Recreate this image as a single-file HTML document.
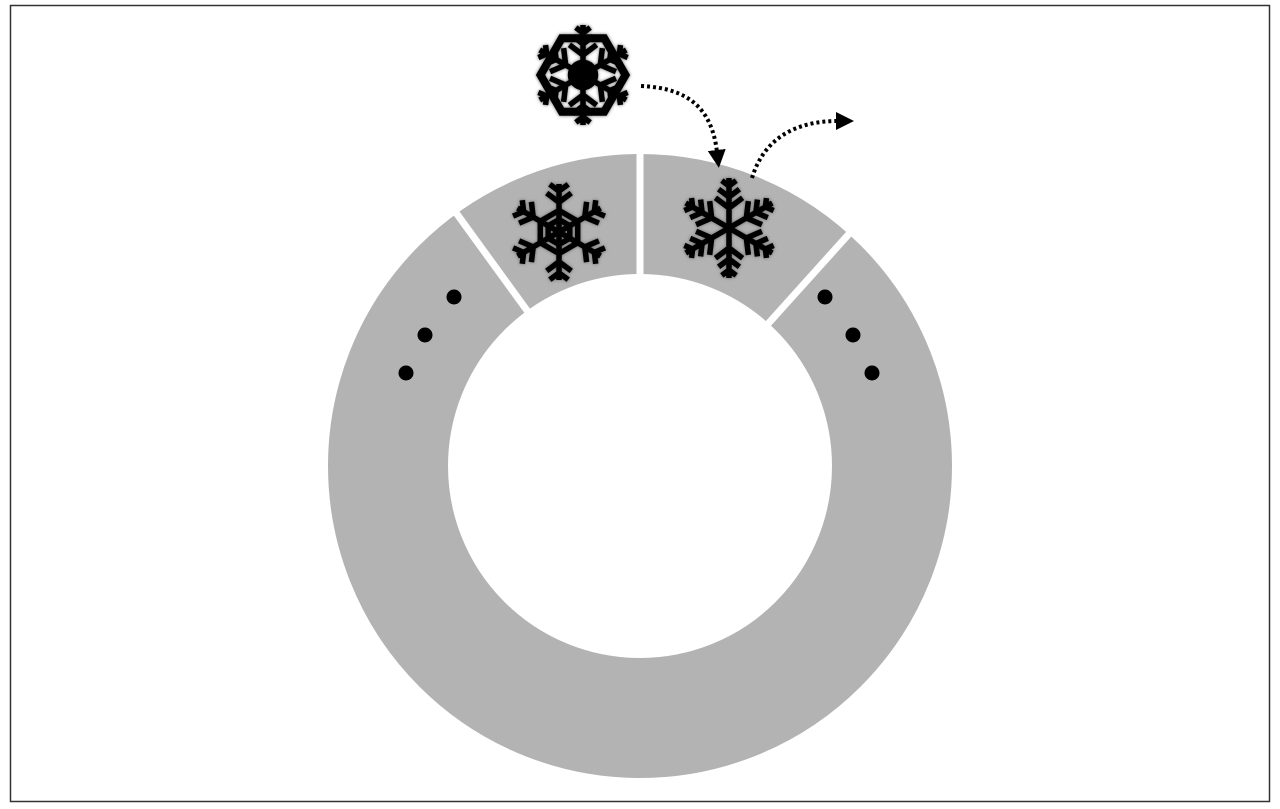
<!DOCTYPE html>
<html><head><meta charset="utf-8"><style>
html,body{margin:0;padding:0;background:#fff;width:1280px;height:809px;overflow:hidden}
svg{display:block}
</style></head><body>
<svg width="1280" height="809" viewBox="0 0 1280 809">
<rect x="10.5" y="5.5" width="1259" height="796" fill="#fff" stroke="#333" stroke-width="1.5"/>
<g>
<circle cx="640" cy="466" r="252" fill="none" stroke="#b3b3b3" stroke-width="120"/>
<g stroke="#fff" stroke-width="7">
<line x1="640" y1="150" x2="640" y2="278" transform="rotate(0 640 466)"/>
<line x1="640" y1="150" x2="640" y2="278" transform="rotate(-36 640 466)"/>
<line x1="640" y1="150" x2="640" y2="278" transform="rotate(42 640 466)"/>
</g>
</g>
<g fill="#000">
<circle cx="454" cy="297" r="7.5"/><circle cx="425" cy="335" r="7.5"/><circle cx="406" cy="373" r="7.5"/>
</g>
<g fill="#000">
<circle cx="825" cy="297" r="7.5"/><circle cx="853" cy="335" r="7.5"/><circle cx="872" cy="373" r="7.5"/>
</g>
<defs>
<marker id="ah2" markerWidth="18" markerHeight="18" refX="2" refY="9" orient="auto" markerUnits="userSpaceOnUse" viewBox="0 0 18 18">
<path d="M0,0 L18,9 L0,18 z" fill="#000"/></marker>
</defs>
<path d="M641,86 C690,88 712,110 717,152" fill="none" stroke="#000" stroke-width="4" stroke-dasharray="3,3" marker-end="url(#ah2)"/>
<path d="M752,178 C765,135 800,121 838,121" fill="none" stroke="#000" stroke-width="4" stroke-dasharray="3,3" marker-end="url(#ah2)"/>
<g id="flakes"></g>
</svg>
<script>
const NS='http://www.w3.org/2000/svg';
const g=document.getElementById('flakes');
function flake(cx,cy,r,name,fancy,hex){
  const f=document.createElementNS(NS,'g');
  
  
  f.setAttribute('stroke','#000');f.setAttribute('stroke-width','5.5');f.setAttribute('fill','none');
  f.style.filter='drop-shadow(0 0 1.5px #666)';
  let d='';
  for(let i=0;i<6;i++){
    const a=i*Math.PI/3-Math.PI/2;
    const ux=Math.cos(a),uy=Math.sin(a),px=-uy,py=ux;
    d+=`M${cx},${cy} L${cx+ux*r},${cy+uy*r} `;
    const ts=hex?[0.62,0.85]:[0.4,0.62,0.84];
    ts.forEach((t,k)=>{
      const bx=cx+ux*r*t,by=cy+uy*r*t,l=r*(hex?0.32-k*0.08:0.34-k*0.08);
      d+=`M${bx},${by} L${bx+(ux*0.6+px*0.8)*l},${by+(uy*0.6+py*0.8)*l} `;
      d+=`M${bx},${by} L${bx+(ux*0.6-px*0.8)*l},${by+(uy*0.6-py*0.8)*l} `;
    });
  }
  const p=document.createElementNS(NS,'path');p.setAttribute('d',d);f.appendChild(p);
  if(hex){
    [0.45,0.26].forEach(s=>{
      let h='';for(let i=0;i<6;i++){const a=i*Math.PI/3-Math.PI/2;h+=(i?'L':'M')+(cx+Math.cos(a)*r*s)+','+(cy+Math.sin(a)*r*s);}
      const q=document.createElementNS(NS,'path');q.setAttribute('d',h+'z');f.appendChild(q);
    });
  }
  if(fancy){
    let h='';for(let i=0;i<6;i++){const a=i*Math.PI/3-Math.PI/3;h+=(i?'L':'M')+(cx+Math.cos(a)*r*0.85)+','+(cy+Math.sin(a)*r*0.85);}
    const q=document.createElementNS(NS,'path');q.setAttribute('d',h+'z');q.setAttribute('stroke-width','8');f.appendChild(q);
    const c=document.createElementNS(NS,'circle');c.setAttribute('cx',cx);c.setAttribute('cy',cy);c.setAttribute('r',r*0.25);c.setAttribute('fill','#000');f.appendChild(c);
  }
  g.appendChild(f);
}
flake(583,75,50,'incoming-snowflake',true,false);
flake(559,232,48,'snowflake-segment-1',false,true);
flake(729,228,50,'snowflake-segment-2',false,false);
</script>
</body></html>
